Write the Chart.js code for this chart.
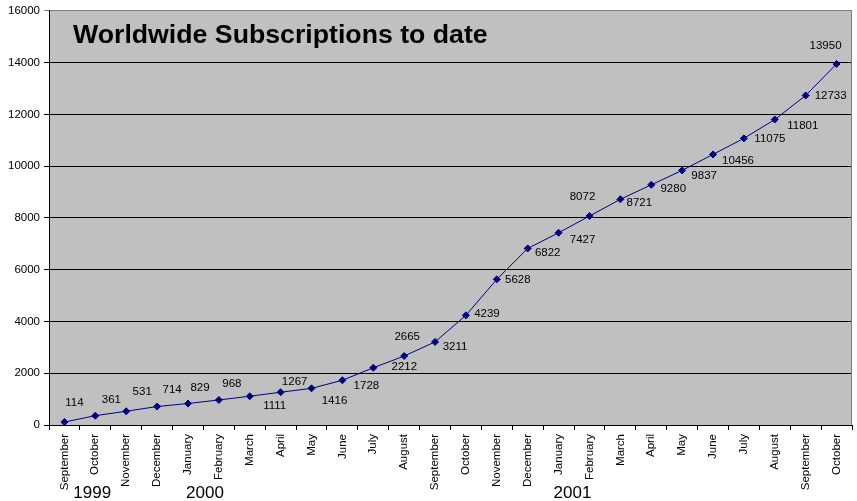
<!DOCTYPE html>
<html>
<head>
<meta charset="utf-8">
<script src="https://cdn.jsdelivr.net/npm/chart.js@4"></script>
<style>
  html, body { margin: 0; padding: 0; background: #ffffff; }
  #wrap { width: 857px; height: 501px; }
</style>
</head>
<body>
<div id="wrap"><canvas id="c" width="857" height="501"></canvas></div>
<script>
// ---- data ----
const months = ["September","October","November","December","January","February","March","April","May","June","July","August","September","October","November","December","January","February","March","April","May","June","July","August","September","October"];
const subscriptions = [114,361,531,714,829,968,1111,1267,1416,1728,2212,2665,3211,4239,5628,6822,7427,8072,8721,9280,9837,10456,11075,11801,12733,13950];
const yearLabels = ["1999","2000","2001"];
const yearPositions = [0.9, 4.55, 16.45]; // category index where each year label sits
const yTicks = [0,2000,4000,6000,8000,10000,12000,14000,16000];
const chartTitle = "Worldwide Subscriptions to date";

// ---- label placement (offset of value label centre from its point, px) ----
const labelOffsets = [
  [10,-19],[16,-16],[16,-19],[15,-17],[12,-16],[13,-16],[25,10],[14,-10],
  [23,12],[24,6],[31,-1],[3,-19],[20,5],[21,-1],[21,0],[20,4],
  [24,7],[-7,-19],[19,4],[22,4],[22,5],[25,6],[26,0],[28,6],[25,0],[-11,-18]
];

const FONT = "'Liberation Sans', Arial, sans-serif";

const decorPlugin = {
  id: 'decor',
  beforeDraw(chart) {
    const {ctx, chartArea: a} = chart;
    ctx.save();
    ctx.fillStyle = '#c0c0c0';
    ctx.fillRect(a.left, a.top, a.right - a.left, a.bottom - a.top);
    ctx.restore();
  },
  beforeDatasetsDraw(chart) {
    const {ctx, chartArea: a} = chart;
    ctx.save();
    ctx.strokeStyle = '#808080';
    ctx.lineWidth = 1;
    ctx.beginPath();
    ctx.moveTo(Math.round(a.right) - 0.5, a.top);
    ctx.lineTo(Math.round(a.right) - 0.5, a.bottom);
    ctx.stroke();
    ctx.restore();
  },
  afterDatasetsDraw(chart) {
    const {ctx, chartArea: a} = chart;
    const meta = chart.getDatasetMeta(0);
    ctx.save();
    ctx.fillStyle = '#000';
    ctx.font = "11.5px " + FONT;
    ctx.textAlign = 'center';
    ctx.textBaseline = 'middle';
    meta.data.forEach((pt, i) => {
      const off = labelOffsets[i] || [0, -15];
      ctx.fillText(String(subscriptions[i]), pt.x + off[0], pt.y + off[1]);
    });
    // title
    ctx.font = "bold 26.7px " + FONT;
    ctx.textAlign = 'left';
    ctx.textBaseline = 'alphabetic';
    ctx.fillText(chartTitle, 73, 43);
    // year labels
    const xs = chart.scales.x;
    ctx.font = "17px " + FONT;
    ctx.textAlign = 'center';
    ctx.textBaseline = 'middle';
    yearLabels.forEach((t, i) => {
      ctx.fillText(t, xs.getPixelForValue(yearPositions[i]), 493);
    });
    ctx.restore();
  }
};

new Chart(document.getElementById('c'), {
  type: 'line',
  data: {
    labels: months,
    datasets: [{
      data: subscriptions,
      borderColor: '#000080',
      backgroundColor: '#000080',
      borderWidth: 1,
      pointStyle: 'rectRot',
      pointRadius: 3.5,
      pointBorderWidth: 1,
      pointBackgroundColor: '#000080',
      pointBorderColor: '#000080',
      tension: 0,
      fill: false,
      clip: false
    }]
  },
  options: {
    responsive: false,
    animation: false,
    devicePixelRatio: 1,
    layout: { padding: { top: 10, right: 4, left: 0, bottom: 0 } },
    plugins: {
      legend: { display: false },
      title: { display: false },
      tooltip: { enabled: false }
    },
    scales: {
      x: {
        type: 'category',
        offset: true,
        afterFit(scale) { scale.height = 76; },
        grid: {
          offset: true,
          drawOnChartArea: false,
          drawTicks: true,
          tickLength: 5,
          color: '#000',
          lineWidth: 1
        },
        border: { display: true, color: '#000', width: 1 },
        ticks: {
          autoSkip: false,
          maxRotation: 90,
          minRotation: 90,
          padding: 4,
          color: '#000',
          font: { family: FONT, size: 11.5 }
        }
      },
      y: {
        min: 0,
        max: 16000,
        afterFit(scale) { scale.width = 49; },
        afterBuildTicks(scale) { scale.ticks = yTicks.map(v => ({ value: v })); },
        grid: {
          drawTicks: true,
          tickLength: 5,
          lineWidth: 1,
          color(c) { return (c.tick && c.tick.value === 16000) ? '#808080' : '#000'; }
        },
        border: { display: true, color: '#000', width: 1 },
        ticks: {
          padding: 4,
          color: '#000',
          font: { family: FONT, size: 11.5 },
          callback(v) { return String(v); }
        }
      }
    }
  },
  plugins: [decorPlugin]
});
</script>
</body>
</html>
